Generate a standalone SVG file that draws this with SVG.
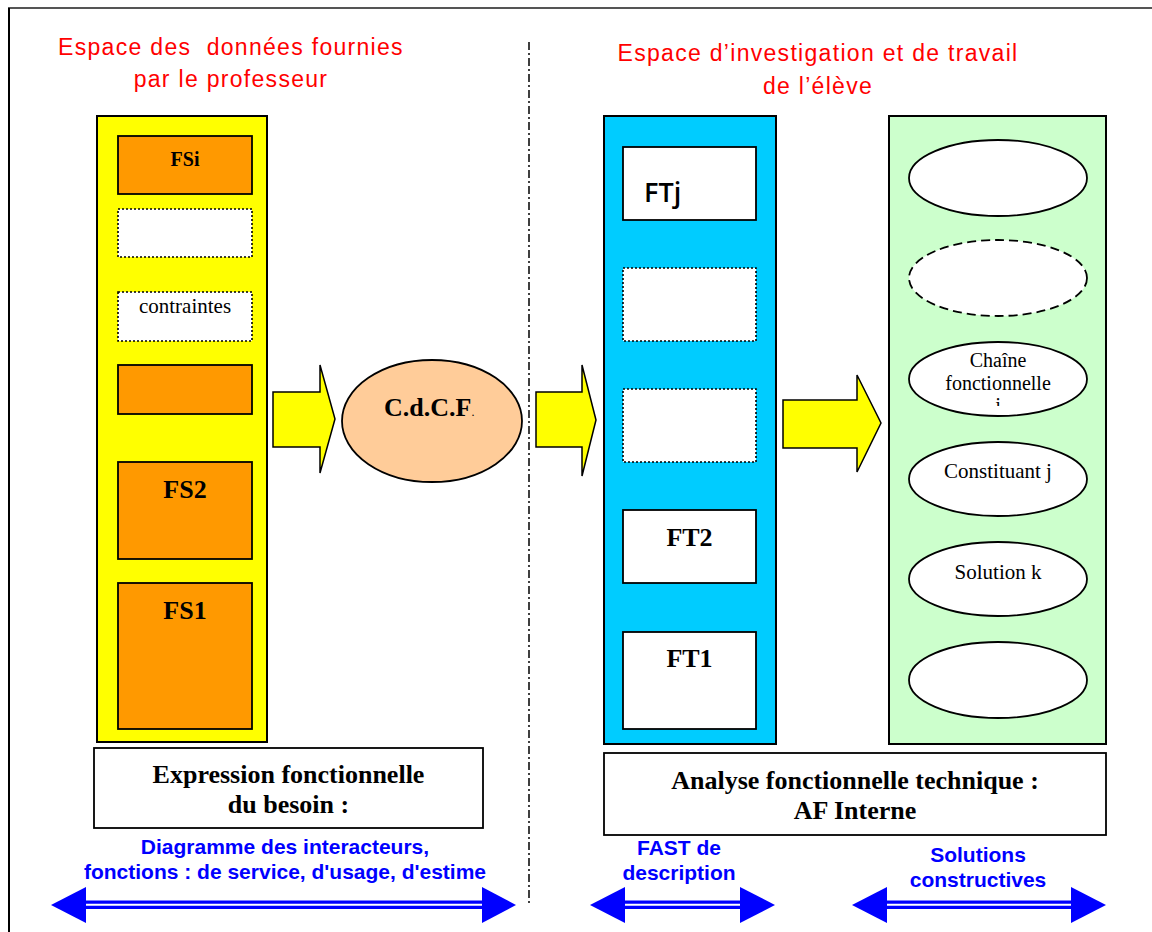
<svg xmlns="http://www.w3.org/2000/svg" width="1152" height="932" viewBox="0 0 1152 932">
<style>
.frame{stroke:#000;stroke-width:2}
.col{stroke:#000;stroke-width:2}
.box{stroke:#000;stroke-width:1.8}
.dot{fill:#fff;stroke:#000;stroke-width:1.6;stroke-dasharray:2 2}
.ell{fill:#fff;stroke:#000;stroke-width:1.8}
.yarrow{fill:#FFFF00;stroke:#000;stroke-width:1.5;stroke-linejoin:miter}
.red{font-family:"Liberation Sans",Arial,sans-serif;font-size:23px;fill:#FF0000;letter-spacing:1.3px;text-anchor:middle;white-space:pre}
.blue{font-family:"Liberation Sans",Arial,sans-serif;font-size:21px;font-weight:bold;fill:#0000FF;text-anchor:middle}
.tb{font-family:"Liberation Serif","Times New Roman",serif;font-weight:bold;fill:#000;text-anchor:middle}
.tn{font-family:"Liberation Serif","Times New Roman",serif;font-size:21px;fill:#000;text-anchor:middle}
.barrow{fill:#0000FF}
</style>
<defs>
<clipPath id="clipj"><rect x="900" y="340" width="200" height="66"/></clipPath>
</defs>
<rect width="1152" height="932" fill="#fff"/>
<g id="frame">
<line x1="8" y1="8" x2="1152" y2="8" stroke="#555" stroke-width="2"/>
<line x1="9" y1="8" x2="9" y2="932" stroke="#000" stroke-width="2"/>
<line x1="529" y1="42" x2="529" y2="906" stroke="#000" stroke-width="1.5" stroke-dasharray="8 3 2 3"/>
</g>
<g id="titles">
<text class="red" x="231" y="55" xml:space="preserve">Espace des  données fournies</text>
<text class="red" x="231" y="87">par le professeur</text>
<text class="red" x="818" y="61">Espace d’investigation et de travail</text>
<text class="red" x="818" y="94">de l’élève</text>
</g>
<g id="col-prof">
<rect class="col" x="97" y="116" width="170" height="626" fill="#FFFF00"/>
</g>
<g id="fsi"><rect class="box" x="118" y="136" width="134" height="58" fill="#FF9900"/><text class="tb" x="185" y="166" font-size="20">FSi</text></g>
<g id="dots1"><rect class="dot" x="118" y="209" width="134" height="48"/></g>
<g id="contraintes"><rect class="dot" x="118" y="292" width="134" height="49"/><text class="tn" x="185" y="313">contraintes</text></g>
<g id="fs-blank"><rect class="box" x="118" y="365" width="134" height="49" fill="#FF9900"/></g>
<g id="fs2"><rect class="box" x="118" y="462" width="134" height="97" fill="#FF9900"/><text class="tb" x="185" y="498" font-size="26">FS2</text></g>
<g id="fs1"><rect class="box" x="118" y="583" width="134" height="146" fill="#FF9900"/><text class="tb" x="185" y="619" font-size="26">FS1</text></g>
<g id="cdcf">
<ellipse cx="432" cy="421" rx="90" ry="61" fill="#FFCC99" stroke="#000" stroke-width="1.8"/>
<text x="384" y="416" font-family="Liberation Serif,'Times New Roman',serif" font-size="26" font-weight="bold">C.d.C.F<tspan font-size="12" font-weight="normal">.</tspan></text>
</g>
<g id="col-eleve">
<rect class="col" x="604" y="116" width="172" height="628" fill="#00CCFF"/>
</g>
<g id="ftj"><rect class="box" x="623" y="147" width="133" height="73" fill="#fff"/><text x="644" y="202" font-family="'Open Sans',sans-serif" font-size="27" font-weight="600" fill="#000">FTj</text></g>
<g id="ftdots1"><rect class="dot" x="623" y="268" width="133" height="73"/></g>
<g id="ftdots2"><rect class="dot" x="623" y="389" width="133" height="73"/></g>
<g id="ft2"><rect class="box" x="623" y="510" width="133" height="73" fill="#fff"/><text class="tb" x="689.5" y="546" font-size="26">FT2</text></g>
<g id="ft1"><rect class="box" x="623" y="632" width="133" height="97" fill="#fff"/><text class="tb" x="689.5" y="667" font-size="26">FT1</text></g>
<g id="col-solutions">
<rect class="col" x="889" y="116" width="217" height="628" fill="#CCFFCC"/>
</g>
<g id="e1"><ellipse class="ell" cx="998" cy="178" rx="89" ry="38"/></g>
<g id="e2"><ellipse class="ell" cx="998" cy="278" rx="89" ry="38" stroke-dasharray="9 5"/></g>
<g id="e3"><ellipse class="ell" cx="998" cy="379" rx="89" ry="37"/>
<text class="tn" font-size="20" style="font-size:20px" clip-path="url(#clipj)"><tspan x="998" y="367">Chaîne</tspan><tspan x="998" y="389.5">fonctionnelle</tspan><tspan x="998" y="412">j</tspan></text></g>
<g id="e4"><ellipse class="ell" cx="998" cy="479" rx="89" ry="37"/><text class="tn" x="998" y="478">Constituant j</text></g>
<g id="e5"><ellipse class="ell" cx="998" cy="579" rx="89" ry="37"/><text class="tn" x="998" y="579">Solution k</text></g>
<g id="e6"><ellipse class="ell" cx="998" cy="680" rx="89" ry="38"/></g>
<g id="expression"><rect class="box" x="94" y="748" width="389" height="80" fill="#fff"/>
<text class="tb" x="288.5" y="783" font-size="26">Expression fonctionnelle</text>
<text class="tb" x="288.5" y="813" font-size="26">du besoin :</text></g>
<g id="analyse"><rect class="box" x="604" y="753" width="502" height="82" fill="#fff"/>
<text class="tb" x="855" y="789" font-size="26">Analyse fonctionnelle technique :</text>
<text class="tb" x="855" y="819" font-size="26">AF Interne</text></g>
<g id="labels">
<text class="blue" x="285" y="854">Diagramme des interacteurs,</text>
<text class="blue" x="285" y="879">fonctions : de service, d'usage, d'estime</text>
<text class="blue" x="679" y="855">FAST de</text>
<text class="blue" x="679" y="880">description</text>
<text class="blue" x="978" y="862">Solutions</text>
<text class="blue" x="978" y="887">constructives</text>
</g>
<g id="connectors">
<polygon class="yarrow" points="273,392 320,392 320,365 335,419 320,473 320,447 273,447"/>
<polygon class="yarrow" points="536,392 582,392 582,365 596,420 582,476 582,447 536,447"/>
<polygon class="yarrow" points="783,400 857,400 857,375 881,423 857,472 857,448 783,448"/>
<g class="barrow">
<polygon points="51,905 86,887 86,923"/><polygon points="516,905 482,887 482,923"/>
<rect x="85" y="900.5" width="398" height="8.5"/>
<polygon points="590,905 625,887 625,923"/><polygon points="775,905 740,887 740,923"/>
<rect x="624" y="900.5" width="117" height="8.5"/>
<polygon points="852,905 887,887 887,923"/><polygon points="1106,905 1071,887 1071,923"/>
<rect x="886" y="900.5" width="186" height="8.5"/>
</g>
<g stroke="#fff" stroke-width="2">
<line x1="86" y1="904.8" x2="482" y2="904.8"/>
<line x1="625" y1="904.8" x2="740" y2="904.8"/>
<line x1="887" y1="904.8" x2="1071" y2="904.8"/>
</g>
</g>
</svg>
